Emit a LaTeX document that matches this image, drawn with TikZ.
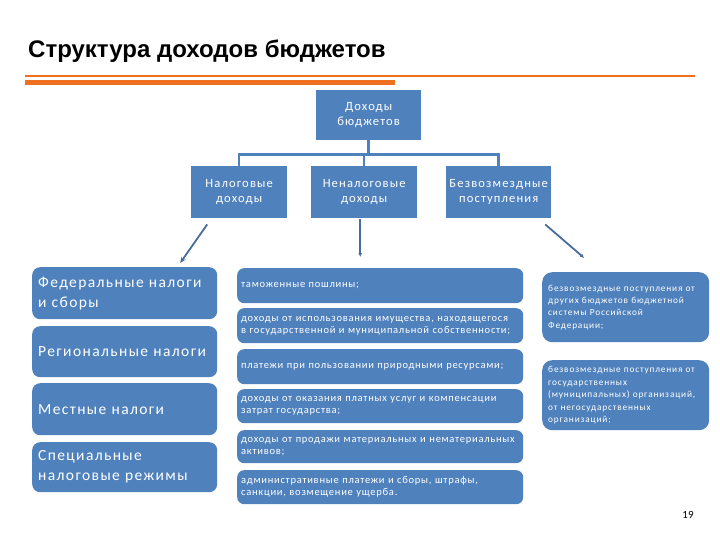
\documentclass[tikz,border=0pt]{standalone}
\usepackage{fontspec}
\setmainfont{Carlito}[LetterSpace=9]
\newfontfamily\midfont{Carlito}[LetterSpace=7]
\newfontfamily\plainfont{Carlito}
\newfontfamily\titlefont{Liberation Sans}
\usetikzlibrary{arrows.meta}
\definecolor{boxblue}{HTML}{4F81BD}
\definecolor{linkblue}{HTML}{4A6C9B}
\definecolor{barorange}{HTML}{F07022}
\begin{document}
\begin{tikzpicture}[x=1pt,y=-1pt,
  topbox/.style={fill=boxblue, text=white, inner sep=0pt, align=center,
    anchor=north west, font=\fontsize{12.6}{15}\selectfont},
  leftbox/.style={fill=boxblue, text=white, rounded corners=8pt, anchor=north west,
    inner xsep=6pt, inner ysep=0pt, align=left, minimum width=185, text width=173,
    font=\fontsize{15.5}{20}\selectfont},
  midbox/.style={fill=boxblue, text=white, rounded corners=7pt, anchor=north west,
    inner xsep=4pt, inner ysep=0pt, align=left, minimum width=286, text width=278,
    font=\midfont\fontsize{10.5}{12}\selectfont},
  rightbox/.style={fill=boxblue, text=white, rounded corners=10pt, anchor=north west,
    inner xsep=6pt, inner ysep=0pt, align=left, minimum width=165, text width=155,
    minimum height=70, font=\fontsize{9.3}{12.4}\selectfont},
  tree/.style={draw=boxblue, line width=2.5pt},
  arr/.style={draw=linkblue, line width=1.8pt, -{Stealth[length=6pt,width=5pt]}},
  arrs/.style={draw=linkblue, line width=1.8pt, -{Latex[length=4pt,width=4pt]}}
]
\useasboundingbox (0,0) rectangle (720,540);

% title and bars
\node[anchor=base west, inner sep=0pt, font=\titlefont\bfseries\fontsize{24}{28}\selectfont] (title) at (28,58) {Структура доходов бюджетов};
\fill[barorange] (25,75) rectangle (695,77);
\fill[barorange] (25,80) rectangle (395,85);

% top level
\node[topbox, minimum width=105, minimum height=50] (top) at (316,90) {Доходы\\бюджетов};
\node[topbox, minimum width=96, minimum height=52] (nal) at (191,166) {Налоговые\\доходы};
\node[topbox, minimum width=106, minimum height=52] (nenal) at (311,166) {Неналоговые\\доходы};
\node[topbox, minimum width=105, minimum height=52] (bez) at (446,166) {Безвозмездные\\поступления};

\draw[tree] (top.south) -- ++(0,14) coordinate (j);
\draw[tree] (nal.north) |- (j);
\draw[tree] (bez.north) |- (j);
\draw[tree] (nenal.north) -- (nenal.north |- j);

% left column
\node[leftbox, minimum height=52] (fed) at (32,267) {Федеральные налоги\\и сборы};
\node[leftbox, minimum height=51] (reg) at (32,326) {Региональные налоги};
\node[leftbox, minimum height=52] (mest) at (32,383) {Местные налоги};
\node[leftbox, minimum height=50] (spec) at (32,442) {Специальные\\налоговые режимы};

% middle column
\node[midbox, minimum height=35] (tam) at (237,268) {таможенные пошлины;};
\node[midbox, minimum height=35] (isp) at (237,308) {доходы от использования имущества, находящегося\\в государственной и муниципальной собственности;};
\node[midbox, minimum height=35] (plat) at (237,349) {платежи при пользовании природными ресурсами;};
\node[midbox, minimum height=34] (usl) at (237,389) {доходы от оказания платных услуг и компенсации\\затрат государства;};
\node[midbox, minimum height=33] (prod) at (237,430) {доходы от продажи материальных и нематериальных\\активов;};
\node[midbox, minimum height=34] (adm) at (237,470) {административные платежи и сборы, штрафы,\\санкции, возмещение ущерба.};

% right column
\node[rightbox] (bz1) at (542,272) {безвозмездные поступления от\\других бюджетов бюджетной\\системы Российской\\Федерации;};
\node[rightbox] (bz2) at (542,360) {безвозмездные поступления от\\государственных\\(муниципальных) организаций,\\от негосударственных\\организаций;};

% arrows
\draw[arr] ([xshift=-32pt,yshift=-6pt]nal.south) -- ([xshift=55.5pt,yshift=4pt]fed.north);
\draw[arrs] ([xshift=-4pt,yshift=-1pt]nenal.south) -- ([xshift=-20pt,yshift=11pt]tam.north);
\draw[arrs] ([xshift=46.5pt,yshift=-6pt]bez.south) -- ([xshift=-41.5pt,yshift=14pt]bz1.north);

% page number
\node[anchor=base, inner sep=0pt, font=\plainfont\fontsize{11}{13}\selectfont] (pg) at (688,518) {19};
\end{tikzpicture}
\end{document}
